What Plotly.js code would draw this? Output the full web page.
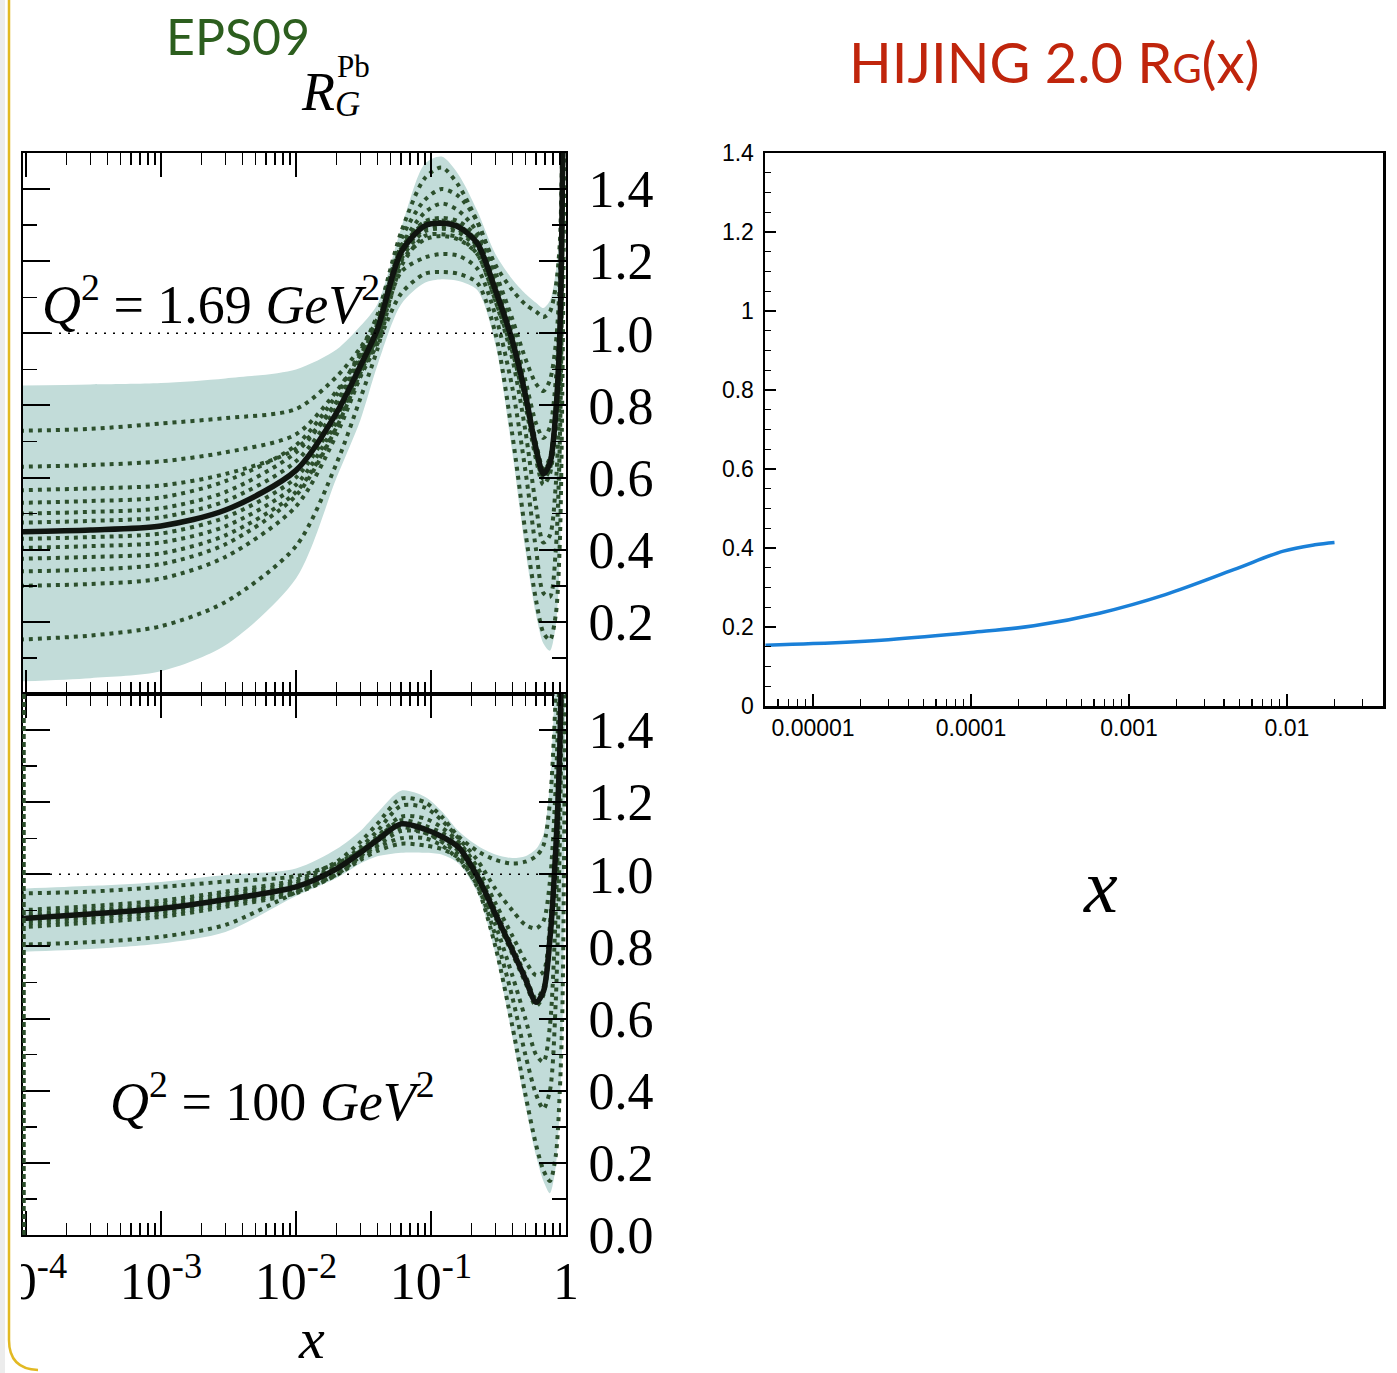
<!DOCTYPE html>
<html><head><meta charset="utf-8">
<script src="https://cdn.plot.ly/plotly-3.0.1.min.js"></script>
<style>html,body{margin:0;padding:0;background:#fff;}#chart{width:1397px;height:1373px;}</style>
</head><body><div id="chart"></div>
<script>
// ---------- DATA ----------
const xGrid = [9e-5, 3e-4, 1e-3, 3e-3, 0.01, 0.02, 0.03, 0.04, 0.06, 0.09, 0.12, 0.16, 0.22, 0.3, 0.4, 0.5, 0.6, 0.68, 0.76, 0.84, 0.9, 0.94, 0.97, 1.0];

// Q^2 = 1.69 GeV^2
const central169 = [0.450,0.455,0.466,0.51,0.62,0.78,0.91,1.01,1.225,1.298,1.305,1.295,1.25,1.12,0.98,0.83,0.68,0.61,0.64,0.78,1.0,1.4,1.9,2.5];
const upper169   = [0.855,0.858,0.862,0.875,0.90,0.955,1.02,1.08,1.29,1.47,1.49,1.44,1.34,1.22,1.15,1.11,1.085,1.07,1.09,1.17,1.3,1.6,1.9,2.3];
const lower169   = [0.035,0.044,0.063,0.135,0.32,0.60,0.76,0.91,1.08,1.14,1.15,1.145,1.12,0.97,0.67,0.40,0.22,0.14,0.12,0.19,0.38,0.75,1.3,2.0];
const sets169 = {
  A1: [0.73,0.735,0.75,0.765,0.79,0.88,0.96,1.04,1.24,1.31,1.32,1.31,1.265,1.135,0.995,0.845,0.695,0.625,0.655,0.80,1.03,1.45,1.95,2.55],
  A2: [0.63,0.635,0.645,0.67,0.72,0.84,0.94,1.025,1.235,1.305,1.313,1.30,1.258,1.128,0.988,0.838,0.688,0.618,0.648,0.79,1.015,1.42,1.92,2.52],
  A3: [0.565,0.57,0.578,0.61,0.68,0.81,0.925,1.015,1.23,1.30,1.309,1.299,1.254,1.124,0.984,0.834,0.684,0.614,0.644,0.785,1.005,1.41,1.91,2.51],
  A4: [0.34,0.345,0.36,0.415,0.55,0.74,0.89,0.995,1.215,1.29,1.297,1.287,1.242,1.112,0.972,0.822,0.672,0.602,0.632,0.77,0.99,1.38,1.88,2.48],
  A5: [0.30,0.305,0.32,0.38,0.52,0.72,0.88,0.99,1.205,1.283,1.29,1.28,1.235,1.105,0.965,0.815,0.665,0.595,0.625,0.765,0.98,1.37,1.87,2.47],
  A6: [0.151,0.162,0.188,0.255,0.41,0.64,0.82,0.955,1.185,1.27,1.275,1.265,1.22,1.09,0.95,0.80,0.65,0.58,0.61,0.75,0.96,1.35,1.85,2.45],
  B1: [0.53,0.535,0.545,0.59,0.69,0.83,0.95,1.05,1.28,1.43,1.46,1.41,1.31,1.19,1.12,1.08,1.06,1.045,1.06,1.13,1.25,1.55,1.9,2.4],
  B2: [0.50,0.505,0.515,0.56,0.67,0.81,0.935,1.03,1.26,1.37,1.40,1.38,1.31,1.17,1.04,0.93,0.86,0.84,0.87,0.97,1.15,1.5,1.9,2.45],
  B3: [0.475,0.48,0.49,0.535,0.645,0.795,0.92,1.015,1.24,1.335,1.36,1.34,1.28,1.15,1.01,0.87,0.75,0.71,0.74,0.87,1.08,1.45,1.9,2.45],
  B4: [0.43,0.435,0.445,0.49,0.60,0.77,0.90,0.99,1.20,1.26,1.27,1.26,1.22,1.09,0.93,0.73,0.52,0.42,0.44,0.58,0.85,1.3,1.85,2.45],
  B5: [0.405,0.41,0.42,0.465,0.58,0.755,0.89,0.98,1.17,1.21,1.22,1.215,1.18,1.05,0.85,0.62,0.40,0.28,0.27,0.40,0.70,1.2,1.8,2.4],
  B6: [0.375,0.38,0.39,0.44,0.56,0.74,0.88,0.97,1.11,1.165,1.17,1.165,1.14,1.0,0.72,0.45,0.26,0.17,0.15,0.22,0.42,0.85,1.4,2.1]
};

// Q^2 = 100 GeV^2
const central100 = [0.877,0.89,0.905,0.93,0.965,1.015,1.06,1.095,1.14,1.125,1.105,1.075,0.995,0.89,0.79,0.71,0.645,0.675,0.82,1.07,1.35,1.75,2.2,2.8];
const upper100   = [0.96,0.968,0.979,0.998,1.016,1.07,1.12,1.17,1.232,1.215,1.175,1.12,1.08,1.055,1.045,1.05,1.07,1.11,1.25,1.6,2.0,2.3,2.6,3.0];
const lower100   = [0.785,0.793,0.808,0.84,0.94,0.99,1.03,1.05,1.06,1.06,1.055,1.03,0.95,0.78,0.55,0.36,0.22,0.15,0.116,0.19,0.36,0.55,1.0,2.0];
const sets100 = {
  a1: [0.947,0.952,0.965,0.98,0.995,1.03,1.065,1.10,1.15,1.135,1.115,1.085,1.005,0.90,0.80,0.72,0.655,0.685,0.83,1.085,1.37,1.77,2.22,2.82],
  a2: [0.805,0.812,0.827,0.86,0.95,1.00,1.05,1.09,1.13,1.115,1.095,1.065,0.985,0.88,0.78,0.70,0.635,0.665,0.81,1.055,1.33,1.73,2.18,2.78],
  b1: [0.90,0.912,0.927,0.952,0.985,1.035,1.09,1.14,1.21,1.20,1.16,1.105,1.065,1.04,1.03,1.035,1.05,1.08,1.2,1.5,1.9,2.2,2.5,2.9],
  b2: [0.89,0.902,0.917,0.945,0.978,1.025,1.075,1.12,1.19,1.185,1.15,1.10,1.04,0.96,0.90,0.86,0.85,0.87,0.98,1.25,1.6,2.0,2.4,2.9],
  b3: [0.883,0.896,0.911,0.937,0.972,1.02,1.067,1.105,1.16,1.155,1.13,1.09,1.02,0.92,0.83,0.76,0.72,0.73,0.86,1.15,1.45,1.85,2.3,2.8],
  b4: [0.87,0.883,0.898,0.923,0.958,1.008,1.05,1.08,1.12,1.115,1.09,1.055,0.98,0.86,0.72,0.60,0.50,0.48,0.58,0.90,1.3,1.75,2.2,2.7],
  b5: [0.862,0.875,0.89,0.917,0.952,1.0,1.045,1.075,1.10,1.10,1.08,1.04,0.97,0.83,0.66,0.50,0.39,0.35,0.40,0.65,1.1,1.6,2.1,2.6],
  b6: [0.853,0.866,0.882,0.91,0.948,0.998,1.04,1.065,1.085,1.08,1.07,1.045,0.965,0.80,0.58,0.39,0.25,0.18,0.15,0.22,0.40,0.62,1.1,2.1]
};

// HIJING 2.0
const hijingX = [5e-6, 1e-5, 3e-5, 1e-4, 2.5e-4, 6.5e-4, 1.7e-3, 4.6e-3, 9.5e-3, 1.5e-2, 2e-2];
const hijingY = [0.154, 0.158, 0.168, 0.186, 0.203, 0.235, 0.282, 0.345, 0.392, 0.408, 0.414];

// tick labels
const eppsXTicks = [1e-4, 1e-3, 1e-2, 1e-1, 1];
const eppsXText = ['10<sup>-4</sup>', '10<sup>-3</sup>', '10<sup>-2</sup>', '10<sup>-1</sup>', '1'];
const eppsYTopTicks = [0.2, 0.4, 0.6, 0.8, 1.0, 1.2, 1.4];
const eppsYTopText = ['0.2', '0.4', '0.6', '0.8', '1.0', '1.2', '1.4'];
const eppsYBotTicks = [0.0, 0.2, 0.4, 0.6, 0.8, 1.0, 1.2, 1.4];
const eppsYBotText = ['0.0', '0.2', '0.4', '0.6', '0.8', '1.0', '1.2', '1.4'];
const hijXTicks = [1e-5, 1e-4, 1e-3, 1e-2];
const hijXText = ['0.00001', '0.0001', '0.001', '0.01'];
const hijYTicks = [0, 0.2, 0.4, 0.6, 0.8, 1.0, 1.2, 1.4];
const hijYText = ['0', '0.2', '0.4', '0.6', '0.8', '1', '1.2', '1.4'];

// ---------- BUILD ----------
const W = 1397, H = 1373;
const px = v => v / W;
const py = v => 1 - v / H;

function minorLog(d0, d1) {
  const out = [];
  for (let d = d0; d <= d1; d++) for (let k = 2; k <= 9; k++) out.push(k * Math.pow(10, d));
  return out;
}

const bandColor = '#c2dcd9';
const dotColor = '#2c4f2c';
const traces = [];

function band(upper, lower, xa, ya) {
  traces.push({
    x: xGrid.concat(xGrid.slice().reverse()),
    y: upper.concat(lower.slice().reverse()),
    xaxis: xa, yaxis: ya, type: 'scatter', mode: 'lines',
    fill: 'toself', fillcolor: bandColor,
    line: {width: 0, shape: 'spline', smoothing: 0.8, color: bandColor},
    hoverinfo: 'skip'
  });
}
function dotted(vals, xa, ya) {
  traces.push({
    x: xGrid, y: vals, xaxis: xa, yaxis: ya, type: 'scatter', mode: 'lines',
    line: {width: 4, color: dotColor, dash: '4px,5px', shape: 'spline', smoothing: 0.8},
    hoverinfo: 'skip'
  });
}
function centralLine(vals, xa, ya) {
  traces.push({
    x: xGrid, y: vals, xaxis: xa, yaxis: ya, type: 'scatter', mode: 'lines',
    line: {width: 5.5, color: '#101510', shape: 'spline', smoothing: 0.8},
    hoverinfo: 'skip'
  });
}

band(upper169, lower169, 'x', 'y');
Object.values(sets169).forEach(v => dotted(v, 'x', 'y'));
centralLine(central169, 'x', 'y');

band(upper100, lower100, 'x2', 'y2');
Object.values(sets100).forEach(v => dotted(v, 'x2', 'y2'));
centralLine(central100, 'x2', 'y2');

traces.push({
  x: hijingX, y: hijingY, xaxis: 'x3', yaxis: 'y3', type: 'scatter', mode: 'lines',
  line: {width: 3.5, color: '#1a80d8', shape: 'spline', smoothing: 1}, hoverinfo: 'skip'
});

const serif = 'Liberation Serif, Times New Roman, serif';
const sans = 'Liberation Sans, Arial, sans-serif';

function leftX(domainAnchor, showLabels) {
  return {
    domain: [px(23), px(566)], anchor: domainAnchor, type: 'log', range: [-4.022, 0],
    tickmode: 'array', tickvals: eppsXTicks, ticktext: eppsXText, showticklabels: showLabels,
    ticks: 'inside', ticklen: 24, tickwidth: 2, tickcolor: '#000',
    showline: true, linewidth: 2, linecolor: '#000', mirror: 'ticks',
    showgrid: false, zeroline: false, ticklabelstandoff: 0, ticklabeloverflow: 'allow',
    tickfont: {family: serif, size: 52, color: '#000'},
    minor: {tickmode: 'array', tickvals: minorLog(-5, -1), ticks: 'inside', ticklen: 12, tickwidth: 1.5, tickcolor: '#000', showgrid: false}
  };
}
function leftY(dom, anchor, tv, tt) {
  return {
    domain: dom, anchor: anchor, side: 'right', range: [0, 1.5],
    tickmode: 'array', tickvals: tv, ticktext: tt,
    ticks: 'inside', ticklen: 27, tickwidth: 2, tickcolor: '#000',
    showline: true, linewidth: 2, linecolor: '#000', mirror: 'ticks',
    showgrid: false, zeroline: false, ticklabelstandoff: 10, ticklabeloverflow: 'allow',
    tickfont: {family: serif, size: 52, color: '#000'},
    minor: {dtick: 0.1, tick0: 0, ticks: 'inside', ticklen: 14, tickwidth: 1.5, tickcolor: '#000', showgrid: false}
  };
}

const layout = {
  width: W, height: H, margin: {l: 0, r: 0, t: 0, b: 0},
  paper_bgcolor: '#fff', plot_bgcolor: 'rgba(0,0,0,0)', showlegend: false,
  xaxis: leftX('y', false),
  yaxis: leftY([py(694), py(153)], 'x', eppsYTopTicks, eppsYTopText),
  xaxis2: leftX('y2', true),
  yaxis2: leftY([py(1235), py(694)], 'x2', eppsYBotTicks, eppsYBotText),
  xaxis3: {
    domain: [px(765), px(1383)], anchor: 'y3', type: 'log', range: [-5.304, -1.392],
    tickmode: 'array', tickvals: hijXTicks, ticktext: hijXText,
    ticks: 'inside', ticklen: 12, tickwidth: 2, tickcolor: '#000',
    showline: true, linewidth: 2.5, linecolor: '#000', mirror: true,
    showgrid: false, zeroline: false, ticklabelstandoff: 0,
    tickfont: {family: sans, size: 23, color: '#000'},
    minor: {tickmode: 'array', tickvals: minorLog(-6, -2), ticks: 'inside', ticklen: 7, tickwidth: 1.2, tickcolor: '#000', showgrid: false}
  },
  yaxis3: {
    domain: [py(706), py(153)], anchor: 'x3', range: [0, 1.4],
    tickmode: 'array', tickvals: hijYTicks, ticktext: hijYText,
    ticks: 'inside', ticklen: 11, tickwidth: 2, tickcolor: '#000',
    showline: true, linewidth: 2.5, linecolor: '#000', mirror: true,
    showgrid: false, zeroline: false, ticklabelstandoff: 4,
    tickfont: {family: sans, size: 23, color: '#000'},
    minor: {dtick: 0.05, tick0: 0, ticks: 'inside', ticklen: 6, tickwidth: 1.2, tickcolor: '#000', showgrid: false}
  },
  shapes: [
    {type: 'line', xref: 'x domain', yref: 'y', x0: 0, x1: 1, y0: 1, y1: 1, layer: 'above',
     line: {color: '#000', width: 1.5, dash: '2px,7px'}},
    {type: 'line', xref: 'x2 domain', yref: 'y2', x0: 0, x1: 1, y0: 1, y1: 1, layer: 'above',
     line: {color: '#000', width: 1.5, dash: '2px,7px'}},
    {type: 'line', xref: 'paper', yref: 'paper', x0: px(24), x1: px(24), y0: py(1235), y1: py(694), layer: 'above',
     line: {color: dotColor, width: 3.5, dash: '5px,3px'}},
    // slide frame
    {type: 'rect', xref: 'paper', yref: 'paper', x0: -0.01, x1: px(21), y0: -0.01, y1: 1.01, layer: 'above',
     fillcolor: '#fff', line: {width: 0}},
    {type: 'rect', xref: 'paper', yref: 'paper', x0: -0.01, x1: px(5), y0: -0.01, y1: 1.01, layer: 'above',
     fillcolor: '#ececec', line: {width: 0}},
    {type: 'path', xref: 'paper', yref: 'paper', layer: 'above',
     path: `M${px(9)},${py(-5)} L${px(9)},${py(1340)} Q${px(9)},${py(1369)} ${px(38)},${py(1370)}`,
     line: {color: '#e2b923', width: 2.5}}
  ],
  annotations: [
    {xref: 'paper', yref: 'paper', x: px(238), y: py(36), xanchor: 'center', yanchor: 'middle', showarrow: false,
     text: 'EPS09', font: {family: 'Lato, Open Sans, sans-serif', size: 50, color: '#2c5e1e'}},
    {xref: 'paper', yref: 'paper', x: px(318), y: py(92), xanchor: 'center', yanchor: 'middle', showarrow: false,
     text: '<i>R</i>', font: {family: serif, size: 54, color: '#000'}},
    {xref: 'paper', yref: 'paper', x: px(335), y: py(67), xanchor: 'left', yanchor: 'middle', showarrow: false,
     text: 'Pb', font: {family: serif, size: 31, color: '#000'}},
    {xref: 'paper', yref: 'paper', x: px(333), y: py(104), xanchor: 'left', yanchor: 'middle', showarrow: false,
     text: '<i>G</i>', font: {family: serif, size: 35, color: '#000'}},
    {xref: 'paper', yref: 'paper', x: px(1054), y: py(62), xanchor: 'center', yanchor: 'middle', showarrow: false,
     text: "HIJING 2.0 R<span style='font-size:40px'>G</span>(x)", font: {family: 'Lato, Open Sans, sans-serif', size: 56, color: '#c0250c'}},
    {xref: 'paper', yref: 'paper', x: px(40), y: py(300), xanchor: 'left', yanchor: 'middle', showarrow: false,
     text: '<i>Q</i><sup>2</sup> = 1.69 <i>GeV</i><sup>2</sup>', font: {family: serif, size: 54, color: '#000'}},
    {xref: 'paper', yref: 'paper', x: px(108), y: py(1097), xanchor: 'left', yanchor: 'middle', showarrow: false,
     text: '<i>Q</i><sup>2</sup> = 100 <i>GeV</i><sup>2</sup>', font: {family: serif, size: 54, color: '#000'}},
    {xref: 'paper', yref: 'paper', x: px(311), y: 0, xanchor: 'center', yanchor: 'bottom', showarrow: false,
     text: '<i>x</i>', font: {family: serif, size: 58, color: '#000'}},
    {xref: 'paper', yref: 'paper', x: px(1100), y: py(886), xanchor: 'center', yanchor: 'middle', showarrow: false,
     text: '<i>x</i>', font: {family: serif, size: 76, color: '#000'}}
  ]
};

Plotly.newPlot('chart', traces, layout, {displayModeBar: false, staticPlot: true});
</script>
</body></html>
